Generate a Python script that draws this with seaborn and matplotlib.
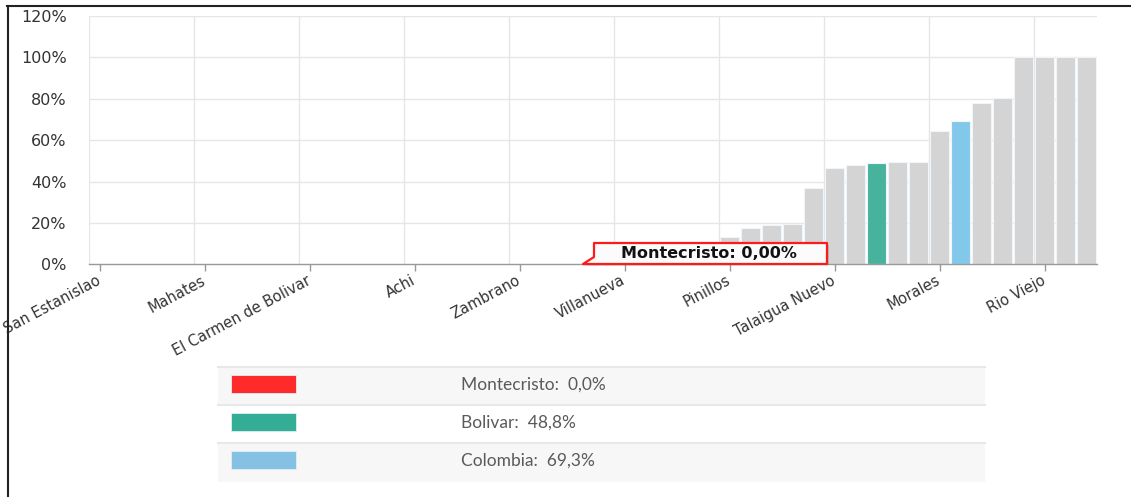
import matplotlib
matplotlib.use("Agg")
import matplotlib.pyplot as plt
import seaborn as sns
import pandas as pd
from matplotlib.patches import Rectangle, Polygon
from matplotlib.lines import Line2D

# ---------------- data ----------------
categories = [
    "San Estanislao", "Arenal", "Altos del Rosario", "Arroyohondo", "Barranco de Loba",
    "Mahates", "Calamar", "Cantagallo", "Cicuco", "Clemencia",
    "El Carmen de Bolivar", "Cordoba", "El Guamo", "El Peñon", "Hatillo de Loba",
    "Achi", "Margarita", "Norosi", "Regidor", "San Cristobal",
    "Zambrano", "San Fernando", "San Jacinto", "Montecristo", "San Jacinto del Cauca",
    "Villanueva", "San Martin de Loba", "Santa Catalina", "Soplaviento", "Tiquisio",
    "Pinillos", "Turbana", "Santa Rosa", "San Pablo", "Simiti",
    "Talaigua Nuevo", "Maria la Baja", "Bolivar", "San Juan Nepomuceno", "Santa Rosa del Sur",
    "Morales", "Colombia", "Mompos", "Arjona", "Turbaco",
    "Rio Viejo", "Magangue", "Cartagena",
]
values = [
    0, 0, 0, 0, 0,
    0, 0, 0, 0, 0,
    0, 0, 0, 0, 0,
    0, 0, 0, 0, 0,
    0, 0, 0, 0, 0,
    0, 0, 0, 0, 0,
    13.4, 17.7, 19.0, 19.5, 36.9,
    46.6, 48.1, 48.8, 49.4, 49.4,
    64.5, 69.3, 78.0, 80.2, 100,
    100, 100, 100,
]
highlight_names = ["Montecristo", "Bolivar", "Colombia"]
highlight_values = [0.0, 48.8, 69.3]
highlight_bar_colors = ["#ff2a2a", "#47b39d", "#82c8ea"]
highlight_legend_colors = ["#ff2a2a", "#33ad96", "#85c1e2"]
base_color = "#d4d4d4"
tick_every = 5
y_ticks = [0, 20, 40, 60, 80, 100, 120]
tooltip_label = "Montecristo: 0,00%"

# ---------------- figure ----------------
W, H = 1131, 497
fig = plt.figure(figsize=(W / 100, H / 100), dpi=100)
fig.patch.set_facecolor("white")

def fx(px):
    return px / W

def fy(py):
    return 1 - py / H

ax_left, ax_right, ax_top, ax_bottom = 89, 1097, 16, 264.3
ax = fig.add_axes([fx(ax_left), fy(ax_bottom), fx(ax_right - ax_left), (ax_bottom - ax_top) / H])

df = pd.DataFrame({"name": categories, "value": values})
palette = {c: base_color for c in categories}
for n, c in zip(highlight_names, highlight_bar_colors):
    palette[n] = c

sns.barplot(data=df, x="name", y="value", hue="name", palette=palette, order=categories,
            legend=False, width=0.86, edgecolor="#eef6fb", linewidth=0.8, saturation=1, ax=ax)

ax.set_xlim(-0.5, len(categories) - 0.5)
ax.set_ylim(0, 120)
ax.set_xlabel("")
ax.set_ylabel("")

# grid
for yv in y_ticks[1:]:
    ax.axhline(yv, color="#e6e6e6", lw=1, zorder=0)
for k in range(0, len(categories), tick_every):
    ax.axvline(k - 0.5, color="#e6e6e6", lw=1, zorder=0)

for s in ["top", "right", "left"]:
    ax.spines[s].set_visible(False)
ax.spines["bottom"].set_color("#999999")
ax.spines["bottom"].set_linewidth(1)

ax.set_yticks(y_ticks)
ax.set_yticklabels([f"{v}%" for v in y_ticks], fontsize=11.5, color="#333333")
ax.tick_params(axis="y", length=0, pad=16)

xt = list(range(0, len(categories), tick_every))
ax.set_xticks(xt)
ax.set_xticklabels([categories[i] for i in xt], rotation=28, ha="right", va="center",
                   rotation_mode="anchor", fontsize=10.5, color="#333333")
ax.tick_params(axis="x", length=5, width=1, color="#999999", pad=6)

# tooltip (callout)
tl, tr, tt, tb = 594, 827, 243, 264
tip = (583, 264)
shadow = Polygon([(fx(tip[0] + 2), fy(tip[1] + 2)), (fx(tl + 2), fy(257 + 2)), (fx(tl + 2), fy(tt + 2)),
                  (fx(tr + 2), fy(tt + 2)), (fx(tr + 2), fy(tb + 1))],
                 closed=True, transform=fig.transFigure, facecolor="#000000", alpha=0.12,
                 edgecolor="none", zorder=9)
fig.patches.append(shadow)
callout = Polygon([(fx(tip[0]), fy(tip[1])), (fx(tl), fy(257)), (fx(tl), fy(tt)),
                   (fx(tr), fy(tt)), (fx(tr), fy(tb))],
                  closed=True, transform=fig.transFigure, facecolor="#fbfbfb",
                  edgecolor="#ff1a1a", linewidth=1.6, joinstyle="round", zorder=10)
fig.patches.append(callout)
fig.text(fx((tl + tr) / 2 - 2), fy((tt + tb) / 2 + 0.5), tooltip_label, ha="center", va="center",
         fontsize=11.5, fontweight="bold", color="#111111", zorder=11)

# legend table
lx0, lx1 = 218, 985
row_tops = [367, 405, 443]
row_h = 38.5
row_bg = ["#f7f7f7", "#ffffff", "#f7f7f7"]
for i, (n, v, c) in enumerate(zip(highlight_names, highlight_values, highlight_legend_colors)):
    top = row_tops[i]
    fig.patches.append(Rectangle((fx(lx0), fy(top + row_h)), fx(lx1 - lx0), row_h / H,
                                 transform=fig.transFigure, facecolor=row_bg[i], edgecolor="none", zorder=1))
    fig.lines.append(Line2D([fx(lx0), fx(lx1)], [fy(top), fy(top)], transform=fig.transFigure,
                            color="#e8e8e8", lw=1.5, zorder=2))
    fig.patches.append(Rectangle((fx(231), fy(top + 8 + 18)), fx(65), 18 / H,
                                 transform=fig.transFigure, facecolor=c, edgecolor="#e0f0f0",
                                 lw=0.6, zorder=3))
    val = f"{v:.1f}".replace(".", ",")
    fig.text(fx(461), fy(top + 17.5), f"{n}:  {val}%", ha="left", va="center",
             fontsize=12.5, family="Lato", color="#5a5a5a", zorder=3)

# figure border (top + left)
fig.lines.append(Line2D([fx(7), 1], [fy(6), fy(6)], transform=fig.transFigure, color="#222222", lw=1.5))
fig.lines.append(Line2D([fx(8), fx(8)], [fy(6), 0], transform=fig.transFigure, color="#222222", lw=1.5))

fig.savefig("out.png", dpi=100)
